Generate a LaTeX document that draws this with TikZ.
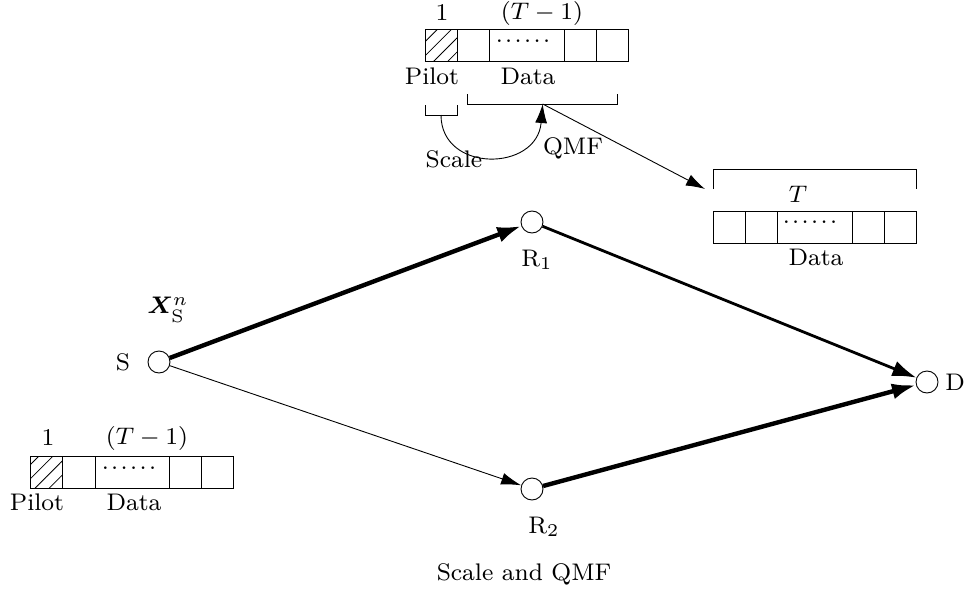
\documentclass[tikz,border=0pt]{standalone}
\usepackage{bm}
\usetikzlibrary{arrows.meta,patterns.meta}
\newcommand{\sixdots}{.\kern0.1em.\kern0.1em.\kern0.1em.\kern0.1em.\kern0.1em.}
\begin{document}
\begin{tikzpicture}[x=1pt,y=-1pt,
  lbl/.style={font=\fontsize{8}{9.6}\selectfont, scale=3.0, inner sep=0pt},
  dotlbl/.style={font=\fontsize{8}{9.6}\selectfont, scale=3.0, inner sep=0pt, text height=0.4ex, text depth=0pt},
  cell/.style={draw, line width=1pt},
  hatch/.style={pattern={Lines[angle=45,distance=10pt,line width=0.8pt]}},
  vtx/.style={circle, draw, line width=0.9pt, minimum size=22pt, inner sep=0pt},
  bigedge/.style={line width=4.4pt, -{Latex[length=24pt,width=16pt]}},
  midedge/.style={line width=2.8pt, -{Latex[length=24pt,width=16pt]}},
  thinedge/.style={line width=0.9pt, -{Latex[length=20pt,width=12pt]}},
  brk/.style={line width=1pt},
  ptr/.style={line width=0.9pt, -{Latex[length=19pt,width=12pt]}}
]
\useasboundingbox (0,0) rectangle (969,594);

% ---------- top packet ----------
\draw[cell, hatch] (425.5,29.5) rectangle (457,61.5);
\draw[cell] (457,29.5) rectangle (489,61.5);
\draw[cell] (489,29.5) rectangle (564,61.5);
\draw[cell] (564,29.5) rectangle (596,61.5);
\draw[cell] (596,29.5) rectangle (628.5,61.5);
\node[lbl] (tone) at (442,13) {1};
\node[lbl] (tTm) at (542,14) {$(T-1)$};
\node[lbl] (tpil) at (432,76) {Pilot};
\node[lbl] (tdat) at (528,76) {Data};
\node[dotlbl] (tdots) at (523,40) {\sixdots};

% brackets
\draw[brk] (425.5,105) -- (425.5,115) -- (457,115) -- (457,105);
\draw[brk] (467.7,94) -- (467.7,104) -- (617.7,104) -- (617.7,94);
\coordinate (sbm) at (441,115);
\coordinate (bbm) at (542.7,104);
\draw[ptr] (sbm) .. controls (441,173) and (537,172) .. (bbm);
\node[lbl] (scl) at (454,159) {Scale};
\node[lbl] (qmf) at (573,148) {QMF};

% ---------- right packet ----------
\draw[brk] (713,189) -- (713,169) -- (916.7,169) -- (916.7,189);
\coordinate (tb) at (705,189);
\draw[ptr] (bbm) -- (tb);
\node[lbl] (rT) at (798,194) {$T$};
\draw[cell] (713,211) rectangle (745,243);
\draw[cell] (745,211) rectangle (777.7,243);
\draw[cell] (777.7,211) rectangle (852,243);
\draw[cell] (852,211) rectangle (884,243);
\draw[cell] (884,211) rectangle (916.7,243);
\node[dotlbl] (rdots) at (810,221) {\sixdots};
\node[lbl] (rdat) at (816,257) {Data};

% ---------- bottom-left packet ----------
\draw[cell, hatch] (30.7,456) rectangle (62.7,488.3);
\draw[cell] (62.7,456) rectangle (95,488.3);
\draw[cell] (95,456) rectangle (169.3,488.3);
\draw[cell] (169.3,456) rectangle (201.7,488.3);
\draw[cell] (201.7,456) rectangle (233.3,488.3);
\node[lbl] (bone) at (48,438) {1};
\node[lbl] (bTm) at (147,438) {$(T-1)$};
\node[lbl] (bpil) at (37,502) {Pilot};
\node[lbl] (bdat) at (134,502) {Data};
\node[dotlbl] (bdots) at (129,467) {\sixdots};

% ---------- graph ----------
\node[vtx] (S) at (159,362) {};
\node[vtx] (R1) at (532,222) {};
\node[vtx] (R2) at (532,489) {};
\node[vtx] (D) at (927,382) {};
\node[lbl] (Sl) at (123,362) {S};
\node[lbl] (Xl) at (168,310) {$\bm{X}_{\mathrm{S}}^{n}$};
\node[lbl] (R1l) at (537,260) {R$_1$};
\node[lbl] (R2l) at (544,527) {R$_2$};
\node[lbl] (Dl) at (955,382) {D};

\draw[bigedge] (S) -- (R1);
\draw[thinedge] (S) -- (R2);
\draw[midedge] (R1) -- (D);
\draw[bigedge] (R2) -- (D);

\node[lbl] (cap) at (524,574) {Scale and QMF};
\end{tikzpicture}
\end{document}
